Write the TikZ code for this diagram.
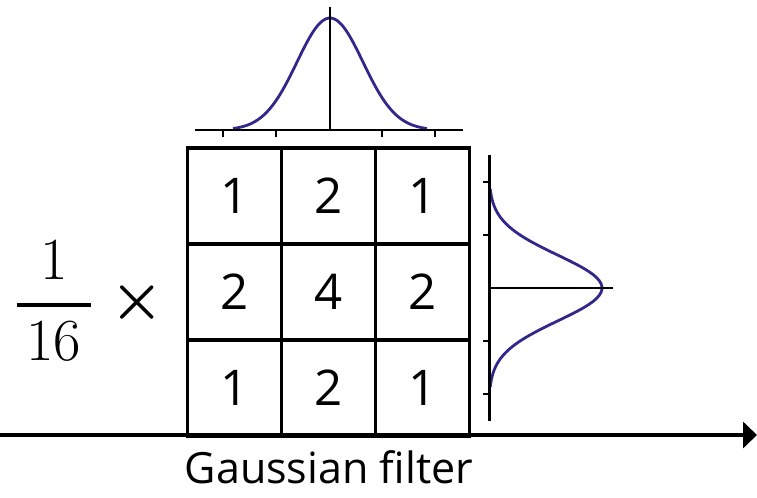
\RequirePackage{fix-cm}
\documentclass[tikz,border=0pt]{standalone}
\usepackage{amsmath}
\usepackage{fontspec}
\setsansfont{Open Sans}
\usetikzlibrary{arrows.meta, positioning}
\definecolor{colCurve}  {RGB}{ 50,  40, 140}
\definecolor{colDark}   {RGB}{  0,   0,   0}
\tikzset{
  cellnode/.style={
    rectangle, draw=colDark, line width=2pt,
    minimum width=1.88cm, minimum height=1.92cm,
    font=\sffamily\fontsize{28}{32}\selectfont,
    inner sep=0pt, text=colDark
  },
  axisline/.style={
    line width=1.7pt, color=colDark
  },
  tickmark/.style={
    line width=1.4pt, color=colDark
  },
  bellcurve/.style={
    line width=1.6pt, color=colCurve, smooth
  },
  mainarrow/.style={
    -{Triangle[length=0.28cm, width=0.52cm]}, line width=2.8pt, color=colDark
  },
  caption/.style={
    font=\sffamily\fontsize{24.5}{28}\selectfont, inner sep=0pt
  },
  mathlbl/.style={
    font=\fontsize{34}{40}\selectfont, inner sep=0pt
  },
}

\begin{document}
\begin{tikzpicture}[x=0.02cm, y=-0.02cm]

\useasboundingbox (0,0) rectangle (757,497);

%% ══════════════════════════════════════════════════════════════
%%  KERNEL GRID  (3 x 3)
%% ══════════════════════════════════════════════════════════════
\foreach \a/\b/\c [count=\r] in {1/2/1, 2/4/2, 1/2/1} {
  \node[cellnode] (c\r1) at (234.5, {100+96*\r}) {\a};
  \node[cellnode] (c\r2) at (328.5, {100+96*\r}) {\b};
  \node[cellnode] (c\r3) at (422.5, {100+96*\r}) {\c};
}

%% ══════════════════════════════════════════════════════════════
%%  SCALE FACTOR  (left of grid)
%% ══════════════════════════════════════════════════════════════
\node[mathlbl] (frac)  at (54,301)
  {$\genfrac{}{}{2.2pt}{0}{1}{\,16\,}$};
\node[mathlbl] (times) at (137,303) {$\boldsymbol{\times}$};

%% ══════════════════════════════════════════════════════════════
%%  BELL CURVE  (above grid)
%% ══════════════════════════════════════════════════════════════
\draw[bellcurve] plot[domain=-97:97, samples=70]
  ({330+\x}, {130-112*exp(-((\x)*(\x))/2178)});
\draw[axisline] (195,130) -- (463,130);
\draw[axisline] (330,7) -- (330,130);
\foreach \tx in {223,276,382,435}
  \draw[tickmark] (\tx,130) -- (\tx,137);

%% ══════════════════════════════════════════════════════════════
%%  BELL CURVE  (right of grid)
%% ══════════════════════════════════════════════════════════════
\draw[bellcurve] plot[domain=-99:99, samples=70]
  ({489+113*exp(-((\x)*(\x))/2178)}, {288+\x});
\draw[axisline] (489,155) -- (489,421);
\draw[axisline] (489,288) -- (613,288);
\foreach \ty in {182,235,341,394}
  \draw[tickmark] (483,\ty) -- (489,\ty);

%% ══════════════════════════════════════════════════════════════
%%  BASE ARROW + CAPTION
%% ══════════════════════════════════════════════════════════════
\coordinate (arrS) at (0,435);
\coordinate (arrE) at (757,435);
\draw[mainarrow] (arrS) -- (arrE);

\node[caption, anchor=base] (lbl) at (329,483) {Gaussian filter};

\end{tikzpicture}
\end{document}
